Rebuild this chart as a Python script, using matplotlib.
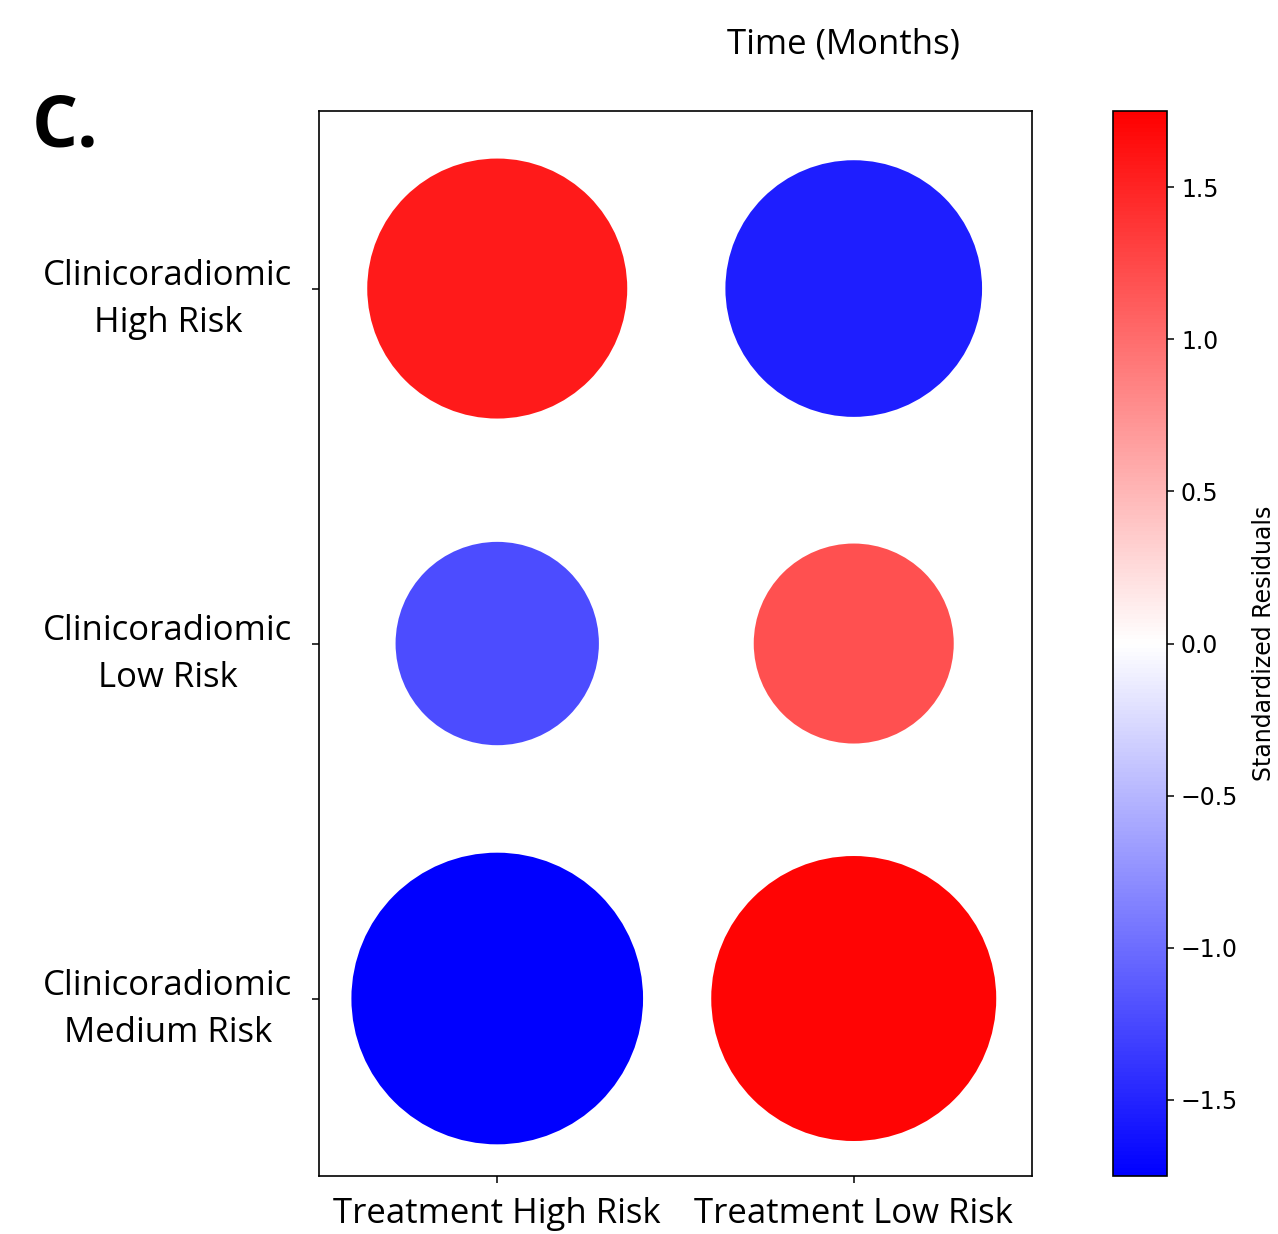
import matplotlib
matplotlib.use("Agg")
import matplotlib.pyplot as plt
import numpy as np
from matplotlib.colors import Normalize

rows = ["Clinicoradiomic\nHigh Risk", "Clinicoradiomic\nLow Risk", "Clinicoradiomic\nMedium Risk"]
cols = ["Treatment High Risk", "Treatment Low Risk"]
high_risk_vals = [1.56, -1.54]
low_risk_vals = [-1.22, 1.20]
medium_risk_vals = [-1.75, 1.71]

vals = np.array([high_risk_vals, low_risk_vals, medium_risk_vals])
vmax = np.abs(vals).max()
norm = Normalize(-vmax, vmax)
cmap = plt.get_cmap("bwr")

fig = plt.figure(figsize=(12.78, 12.34), dpi=100)
ax = fig.add_axes([0.2496, 0.047, 0.5579, 0.863])
cax = fig.add_axes([0.8709, 0.047, 0.0423, 0.863])

xs, ys, cs, ss = [], [], [], []
K = 120.0
for i in range(len(rows)):
    for j in range(len(cols)):
        xs.append(j)
        ys.append(i)
        cs.append(vals[i, j])
        ss.append((abs(vals[i, j]) * K) ** 2)
sc = ax.scatter(xs, ys, c=cs, s=ss, cmap=cmap, norm=norm, edgecolors="none")
ax.set_xlim(-0.5, len(cols) - 0.5)
ax.set_ylim(len(rows) - 0.5, -0.5)
ax.set_xticks(range(len(cols)))
ax.set_xticklabels(cols, family="Open Sans", fontsize=25)
ax.set_yticks(range(len(rows)))
ax.set_yticklabels(rows, family="Open Sans", fontsize=25, multialignment="center",
                   linespacing=1.5)
ax.tick_params(axis="both", length=5, width=1.1, pad=10)
ax.tick_params(axis="y", pad=14)
for sp in ax.spines.values():
    sp.set_linewidth(1.2)

cb = fig.colorbar(sc, cax=cax)
cb.set_label("Standardized Residuals", fontsize=17, labelpad=10)
cb.ax.tick_params(labelsize=17, length=5, width=1.1, pad=5)
cb.outline.set_linewidth(1.2)

fig.text(0.66, 0.964, "Time (Months)", family="Open Sans", fontsize=25, ha="center", va="center")
fig.text(0.025, 0.897, "C.", family="Open Sans", fontsize=52, fontweight="bold", ha="left", va="center")

fig.savefig("out.png", dpi=100)
